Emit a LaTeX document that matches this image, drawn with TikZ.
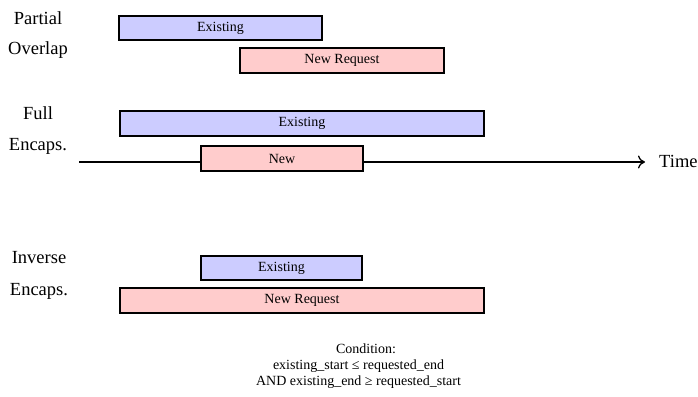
\documentclass[tikz,border=0pt]{standalone}
\usepackage{fontspec}
\setmainfont{Liberation Serif}
\usetikzlibrary{arrows.meta}
\definecolor{exfill}{RGB}{204,204,255}
\definecolor{nwfill}{RGB}{255,204,204}
\tikzset{
  bar/.style={draw=black, line width=1.5pt, inner sep=0pt,
    font=\fontsize{14}{16}\selectfont},
  exbar/.style={bar, fill=exfill},
  nwbar/.style={bar, fill=nwfill},
  lbl/.style={anchor=base, inner sep=0pt, font=\fontsize{18.5}{22}\selectfont},
  cond/.style={anchor=base, inner sep=0pt, font=\fontsize{14}{16}\selectfont},
  axis/.style={line width=1.3pt, -{To[length=7pt,width=13pt,line width=1.3pt]}}
}
\begin{document}
\begin{tikzpicture}[x=1pt,y=-1pt]
\useasboundingbox (0,0) rectangle (698,396);

% row labels
\node[lbl] (po1) at (38,25) {Partial};
\node[lbl] (po2) at (38,55) {Overlap};
\node[lbl] (fe1) at (38,119) {Full};
\node[lbl] (fe2) at (38,150) {Encaps.};
\node[lbl] (ie1) at (39,263) {Inverse};
\node[lbl] (ie2) at (39,295) {Encaps.};

% time axis, drawn first so the bars sit on top of it
\coordinate (tstart) at (79,162);
\coordinate (tend) at (645,162);
\draw[axis] (tstart) -- (tend);
\node[lbl, anchor=base west] (time) at (659,167) {Time};

% partial overlap
\node[exbar, minimum width=203pt, minimum height=24pt] (pex) at (220.5,28) {Existing};
\node[nwbar, minimum width=204pt, minimum height=25pt] (pnw) at (342,60.5) {New Request};

% full encapsulation
\node[exbar, minimum width=364pt, minimum height=25pt] (fex) at (302,123.5) {Existing};
\node[nwbar, minimum width=162pt, minimum height=25pt] (fnw) at (282,158.5) {New};

% inverse encapsulation
\node[exbar, minimum width=161pt, minimum height=24pt] (iex) at (281.5,268) {Existing};
\node[nwbar, minimum width=364pt, minimum height=25pt] (inw) at (302,300.5) {New Request};

% overlap condition
\node[cond] (c1) at (366,353) {Condition:};
\node[cond] (c2) at (358.5,369) {existing\_start ≤ requested\_end};
\node[cond] (c3) at (358.5,385) {AND existing\_end ≥ requested\_start};
\end{tikzpicture}
\end{document}
